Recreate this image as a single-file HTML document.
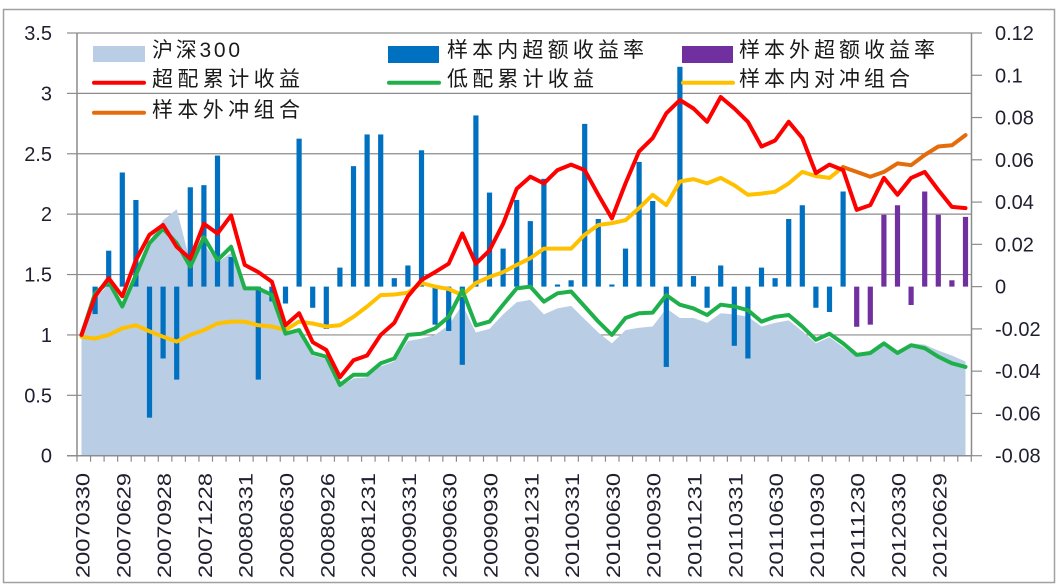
<!DOCTYPE html>
<html><head><meta charset="utf-8"><style>
html,body{margin:0;padding:0;background:#fff;}
svg{display:block;font-family:"Liberation Sans","Noto Sans CJK SC",sans-serif;}
</style></head><body>
<svg id="chart" width="1062" height="588" viewBox="0 0 1062 588" xmlns="http://www.w3.org/2000/svg">
<rect x="3.5" y="9.5" width="1051" height="573" fill="#fff" stroke="#a0a0a0" stroke-width="1.5"/>
<g id="grid"></g><g id="area"></g><g id="bars"></g><g id="lines"></g><g id="axes"></g>
<g id="legend">
 <rect x="93" y="46" width="52" height="16" fill="#b9cde5"/>
 <text x="152" y="57" font-size="21" fill="#1a1a1a" textLength="88">沪深300</text>
 <rect x="388" y="46" width="51" height="17" fill="#0070c0"/>
 <text x="447" y="57" font-size="21" fill="#1a1a1a" textLength="197">样本内超额收益率</text>
 <rect x="682" y="46" width="51" height="17" fill="#7030a0"/>
 <text x="739" y="57" font-size="21" fill="#1a1a1a" textLength="196">样本外超额收益率</text>
 <line x1="94" y1="82.7" x2="144" y2="82.7" stroke="#ff0000" stroke-width="4" stroke-linecap="round"/>
 <text x="152" y="86" font-size="21" fill="#1a1a1a" textLength="148">超配累计收益</text>
 <line x1="389" y1="82.7" x2="439" y2="82.7" stroke="#20b04b" stroke-width="4" stroke-linecap="round"/>
 <text x="447" y="86" font-size="21" fill="#1a1a1a" textLength="147">低配累计收益</text>
 <line x1="683" y1="82.7" x2="733" y2="82.7" stroke="#ffc000" stroke-width="4" stroke-linecap="round"/>
 <text x="739" y="86" font-size="21" fill="#1a1a1a" textLength="171">样本内对冲组合</text>
 <line x1="94" y1="112.7" x2="144" y2="112.7" stroke="#e46c0a" stroke-width="4" stroke-linecap="round"/>
 <text x="152" y="117" font-size="21" fill="#1a1a1a" textLength="148">样本外冲组合</text>
</g>
</svg>
<script>
const dateLabels=["20070330","20070629","20070928","20071228","20080331","20080630","20080926","20081231","20090331","20090630","20090930","20091231","20100331","20100630","20100930","20101231","20110331","20110630","20110930","20111230","20120330","20120629"];
const leftTicks=[0,0.5,1,1.5,2,2.5,3,3.5];
const leftTickLabels=["0","0.5","1","1.5","2","2.5","3","3.5"];
const rightTicks=[-0.08,-0.06,-0.04,-0.02,0,0.02,0.04,0.06,0.08,0.1,0.12];
const rightTickLabels=["-0.08","-0.06","-0.04","-0.02","0","0.02","0.04","0.06","0.08","0.1","0.12"];
const hs300=[1.0,1.3,1.42,1.25,1.5,1.78,1.95,2.04,1.6,1.75,1.6,1.68,1.38,1.38,1.3,1.0,1.02,0.83,0.8,0.57,0.64,0.65,0.74,0.78,0.95,0.97,1.0,1.08,1.25,1.02,1.05,1.17,1.27,1.29,1.17,1.22,1.24,1.13,1.02,0.93,1.04,1.06,1.07,1.22,1.14,1.14,1.1,1.18,1.17,1.15,1.07,1.1,1.12,1.03,0.93,0.98,0.9,0.82,0.84,0.92,0.86,0.93,0.92,0.87,0.83,0.78];
const overweight=[1.0,1.32,1.47,1.32,1.62,1.83,1.91,1.73,1.63,1.92,1.84,1.99,1.58,1.52,1.44,1.08,1.18,0.94,0.875,0.65,0.79,0.83,1.0,1.1,1.32,1.455,1.52,1.59,1.84,1.59,1.7,1.92,2.21,2.31,2.255,2.365,2.41,2.365,2.16,1.965,2.255,2.52,2.63,2.835,2.945,2.875,2.765,2.97,2.875,2.765,2.56,2.61,2.765,2.63,2.34,2.41,2.365,2.035,2.075,2.3,2.16,2.3,2.35,2.2,2.06,2.05];
const underweight=[1.0,1.345,1.44,1.235,1.495,1.76,1.88,1.76,1.565,1.81,1.62,1.73,1.385,1.385,1.33,1.01,1.04,0.85,0.82,0.585,0.67,0.67,0.765,0.805,1.0,1.01,1.055,1.15,1.37,1.08,1.11,1.25,1.385,1.4,1.275,1.345,1.36,1.235,1.11,1.0,1.14,1.18,1.185,1.33,1.25,1.22,1.165,1.25,1.235,1.205,1.11,1.15,1.165,1.07,0.96,1.01,0.93,0.835,0.85,0.93,0.85,0.915,0.89,0.82,0.765,0.735];
const inSampleHedge=[0.985,0.97,1.0,1.055,1.08,1.03,0.985,0.945,1.0,1.04,1.095,1.11,1.11,1.08,1.07,1.04,1.11,1.095,1.07,1.08,1.15,1.235,1.33,1.335,1.35,1.43,1.4,1.38,1.33,1.43,1.48,1.52,1.58,1.635,1.715,1.715,1.715,1.83,1.91,1.925,1.95,2.05,2.16,2.075,2.27,2.29,2.255,2.3,2.24,2.16,2.17,2.185,2.255,2.35,2.315,2.3,2.39];
const outSampleHedgeStart=56;
const outSampleHedge=[2.39,2.35,2.31,2.35,2.42,2.405,2.49,2.56,2.57,2.655];
const inSampleExcess=[0,-0.013,0.017,0.054,0.041,-0.062,-0.034,-0.044,0.047,0.048,0.062,0.014,0,-0.044,-0.007,-0.008,0.070,-0.010,-0.020,0.009,0.057,0.072,0.072,0.004,0.010,0.0645,-0.018,-0.021,-0.037,0.081,0.0445,0.018,0.041,0.031,0.051,0.001,0.003,0.077,0.032,0.001,0.018,0.059,0.0405,-0.038,0.104,0.005,-0.010,0.010,-0.028,-0.034,0.009,0.004,0.032,0.0385,-0.010,-0.012,0.045];
const outSampleExcessStart=57;
const outSampleExcess=[-0.019,-0.018,0.034,0.0385,-0.0087,0.045,0.034,0.003,0.033];

const NS="http://www.w3.org/2000/svg";
const X0=77,X1=971.5,Y0=455.7,YT=33;
function xs(i){return 81.5+13.6*i;}
function yL(v){return Y0-(v/3.5)*(Y0-YT);}
function yR(v){return Y0-((v+0.08)/0.2)*(Y0-YT);}
function mk(tag,attrs,parent){const e=document.createElementNS(NS,tag);for(const k in attrs)e.setAttribute(k,attrs[k]);parent.appendChild(e);return e;}
const grid=document.getElementById('grid'),area=document.getElementById('area'),bars=document.getElementById('bars'),lines=document.getElementById('lines'),axes=document.getElementById('axes');

leftTicks.forEach((v,k)=>{
  const y=yL(v);
  if(v>0){const g=mk('line',{x1:X0,x2:X1,y1:y,y2:y,stroke:'#8c8c8c','stroke-width':1.2},grid);
  
  }
  const t=mk('line',{x1:67,x2:X0,y1:y,y2:y,stroke:'#8c8c8c','stroke-width':1.2},axes);
  
  
  const tx=mk('text',{x:52,y:y+7,'text-anchor':'end','font-size':20,fill:'#1f1f2f'},axes);
  tx.textContent=leftTickLabels[k];
  
  
});
rightTicks.forEach((v,k)=>{
  const y=yR(v);
  const t=mk('line',{x1:X1,x2:982,y1:y,y2:y,stroke:'#8c8c8c','stroke-width':1.2},axes);
  
  
  const tx=mk('text',{x:995,y:y+7,'font-size':20,fill:'#1f1f2f'},axes);
  tx.textContent=rightTickLabels[k];
  
  
});

// HS300 area
let d='M'+xs(0)+','+Y0;
hs300.forEach((v,i)=>{d+=' L'+xs(i).toFixed(1)+','+yL(v).toFixed(1);});
d+=' L'+xs(hs300.length-1)+','+Y0+' Z';
const ar=mk('path',{d:d,fill:'#b9cde5'},area);



function bar(v,i,color,name){
  const y0=yR(0),y1=yR(v);
  const r=mk('rect',{x:xs(i)-2.6,y:Math.min(y0,y1),width:5.2,height:Math.max(0.5,Math.abs(y1-y0)),fill:color},bars);
  
  
}
inSampleExcess.forEach((v,i)=>{if(v!==0)bar(v,i,'#0070c0','in-sample-excess-bar');});
outSampleExcess.forEach((v,j)=>bar(v,outSampleExcessStart+j,'#7030a0','out-sample-excess-bar'));

function line(arr,start,color,name){
  const pts=arr.map((v,j)=>xs(start+j).toFixed(1)+','+yL(v).toFixed(1)).join(' ');
  const p=mk('polyline',{points:pts,fill:'none',stroke:color,'stroke-width':4,'stroke-linejoin':'round','stroke-linecap':'round'},lines);
  
  
}
line(inSampleHedge,0,'#ffc000','in-sample-hedge-line');
line(outSampleHedge,outSampleHedgeStart,'#e46c0a','out-sample-hedge-line');
line(underweight,0,'#20b04b','underweight-line');
line(overweight,0,'#ff0000','overweight-line');

// axes lines
const la=mk('line',{x1:X0,x2:X0,y1:YT,y2:Y0,stroke:'#8c8c8c','stroke-width':1.5},axes);


const ra=mk('line',{x1:X1,x2:X1,y1:YT,y2:Y0,stroke:'#8c8c8c','stroke-width':1.5},axes);


const xa=mk('line',{x1:67,x2:X1,y1:Y0,y2:Y0,stroke:'#8c8c8c','stroke-width':1.5},axes);


for(let k=0;k<=66;k++){
  const x=X0+13.55*k;
  const t=mk('line',{x1:x,x2:x,y1:Y0,y2:Y0+6,stroke:'#8c8c8c','stroke-width':1.2},axes);
  
  
}
dateLabels.forEach((s,k)=>{
  const x=xs(k*3)+8;
  const t=mk('text',{x:x,y:473,transform:'rotate(-90 '+x+' 473)','text-anchor':'end','font-size':19,fill:'#1f1f2f',textLength:105,lengthAdjust:'spacingAndGlyphs'},axes);
  t.textContent=s;
  
  
});
</script>
</body></html>
